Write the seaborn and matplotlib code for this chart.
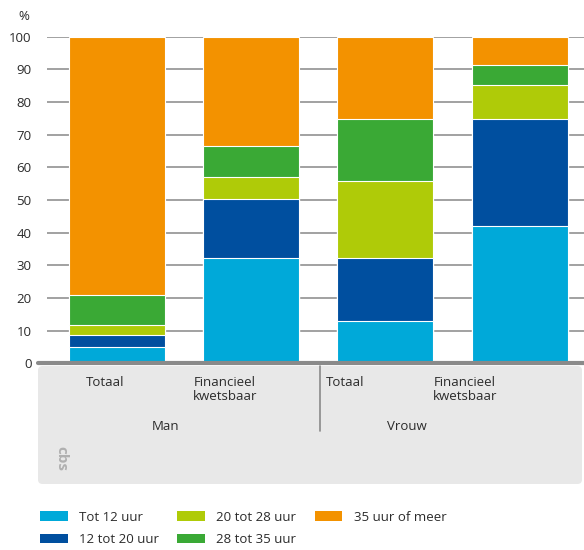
import matplotlib
matplotlib.use('Agg')

import pandas as pd
import numpy as np
import matplotlib.pyplot as plt
import matplotlib.patches as mpatches
import seaborn as sns

sns.set_style("white")
plt.rcParams['font.family'] = ['Open Sans', 'DejaVu Sans']

# ─────────────────────────────────────────
# data (aandeel in %, per groep)
# ─────────────────────────────────────────
groups     = ["Man Totaal", "Man Financieel kwetsbaar", "Vrouw Totaal", "Vrouw Financieel kwetsbaar"]
sub_labels = ["Totaal", "Financieel\nkwetsbaar", "Totaal", "Financieel\nkwetsbaar"]
sex_labels = ["Man", "Vrouw"]

categories = ["Tot 12 uur", "12 tot 20 uur", "20 tot 28 uur", "28 tot 35 uur", "35 uur of meer"]
tot_12   = [5.1, 32.3, 13.0, 42.0]
v12_20   = [3.6, 18.0, 19.3, 32.7]
v20_28   = [3.0, 6.7, 23.5, 10.4]
v28_35   = [9.2, 9.6, 19.0, 6.2]
v35_meer = [79.1, 33.4, 25.2, 8.7]

colors = ["#00a9d9", "#004f9f", "#afcb08", "#3aa935", "#f39200"]

df = pd.DataFrame({
    "groep": groups,
    categories[0]: tot_12,
    categories[1]: v12_20,
    categories[2]: v20_28,
    categories[3]: v28_35,
    categories[4]: v35_meer,
})

# ─────────────────────────────────────────
# figure
# ─────────────────────────────────────────
W, H = 584, 550
fig = plt.figure(figsize=(W / 100, H / 100), dpi=100)
ax = fig.add_axes([47 / W, (H - 363.3) / H, (W - 47) / W, (363.3 - 36.7) / H])

bottom = np.zeros(len(df))
for cat, col in zip(categories, colors):
    sns.barplot(x=df["groep"], y=df[cat] + bottom, color=col, width=0.715,
                saturation=1, ax=ax, edgecolor="white", linewidth=0.8)
    bottom += df[cat].values

# latere (hogere) balken komen anders over de lagere heen
for i, cont in enumerate(ax.containers):
    for bar in cont:
        bar.set_zorder(10 - i)

ax.set_xlim(-0.5216, 3.48)
ax.set_ylim(0, 100)
ax.set_yticks(range(0, 101, 10))
ax.tick_params(axis='y', length=0, labelsize=9.5, colors="#2b2b2b", pad=11)
ax.set_xticks([])
ax.set_xlabel("")
ax.set_ylabel("")
for s in ax.spines.values():
    s.set_visible(False)
ax.yaxis.grid(True, color="#9a9a9a", linewidth=1.3)
ax.set_axisbelow(True)
ax.axhline(0, xmin=-9 / 537, xmax=1.0, color="#8a8a8a", linewidth=3, clip_on=False, zorder=20)

fig.text(18 / W, (H - 16) / H, "%", fontsize=9.5, color="#2b2b2b", ha="left", va="center")

# grijze categorie-box
box = mpatches.FancyBboxPatch((38 / W, (H - 484) / H), (582 - 38) / W, (484 - 366) / H,
                              boxstyle="round,pad=0,rounding_size=0.008",
                              transform=fig.transFigure, facecolor="#e8e8e8",
                              edgecolor="none", zorder=0)
fig.patches.append(box)
fig.add_artist(plt.Line2D([320 / W, 320 / W], [(H - 366) / H, (H - 431) / H],
                          transform=fig.transFigure, color="#8a8a8a", linewidth=1.2))

sub_x = [105, 225, 345, 465]
for xp, lab in zip(sub_x, sub_labels):
    fig.text(xp / W, (H - 376) / H, lab, ha="center", va="top", fontsize=9.5,
             color="#2b2b2b", linespacing=1.1, multialignment="center")
for xp, lab in zip([166, 407], sex_labels):
    fig.text(xp / W, (H - 426) / H, lab, ha="center", va="center", fontsize=9.5, color="#2b2b2b")

# cbs logo (benadering)
fig.text(61 / W, (H - 459) / H, "cbs", rotation=270, ha="center", va="center",
         fontsize=11, fontweight="bold", color="#b0b0b0")

# legenda
handles = [mpatches.Patch(facecolor=c, edgecolor="none", label=l) for c, l in zip(colors, categories)]
fig.legend(handles=handles, loc="upper left", bbox_to_anchor=(28 / W, (H - 499) / H),
           ncol=3, frameon=False, fontsize=9.5, handlelength=2.1, handleheight=0.75,
           handletextpad=0.85, columnspacing=1.4, labelspacing=0.7, labelcolor="#2b2b2b")

plt.savefig("out.png", dpi=100)
plt.close()
